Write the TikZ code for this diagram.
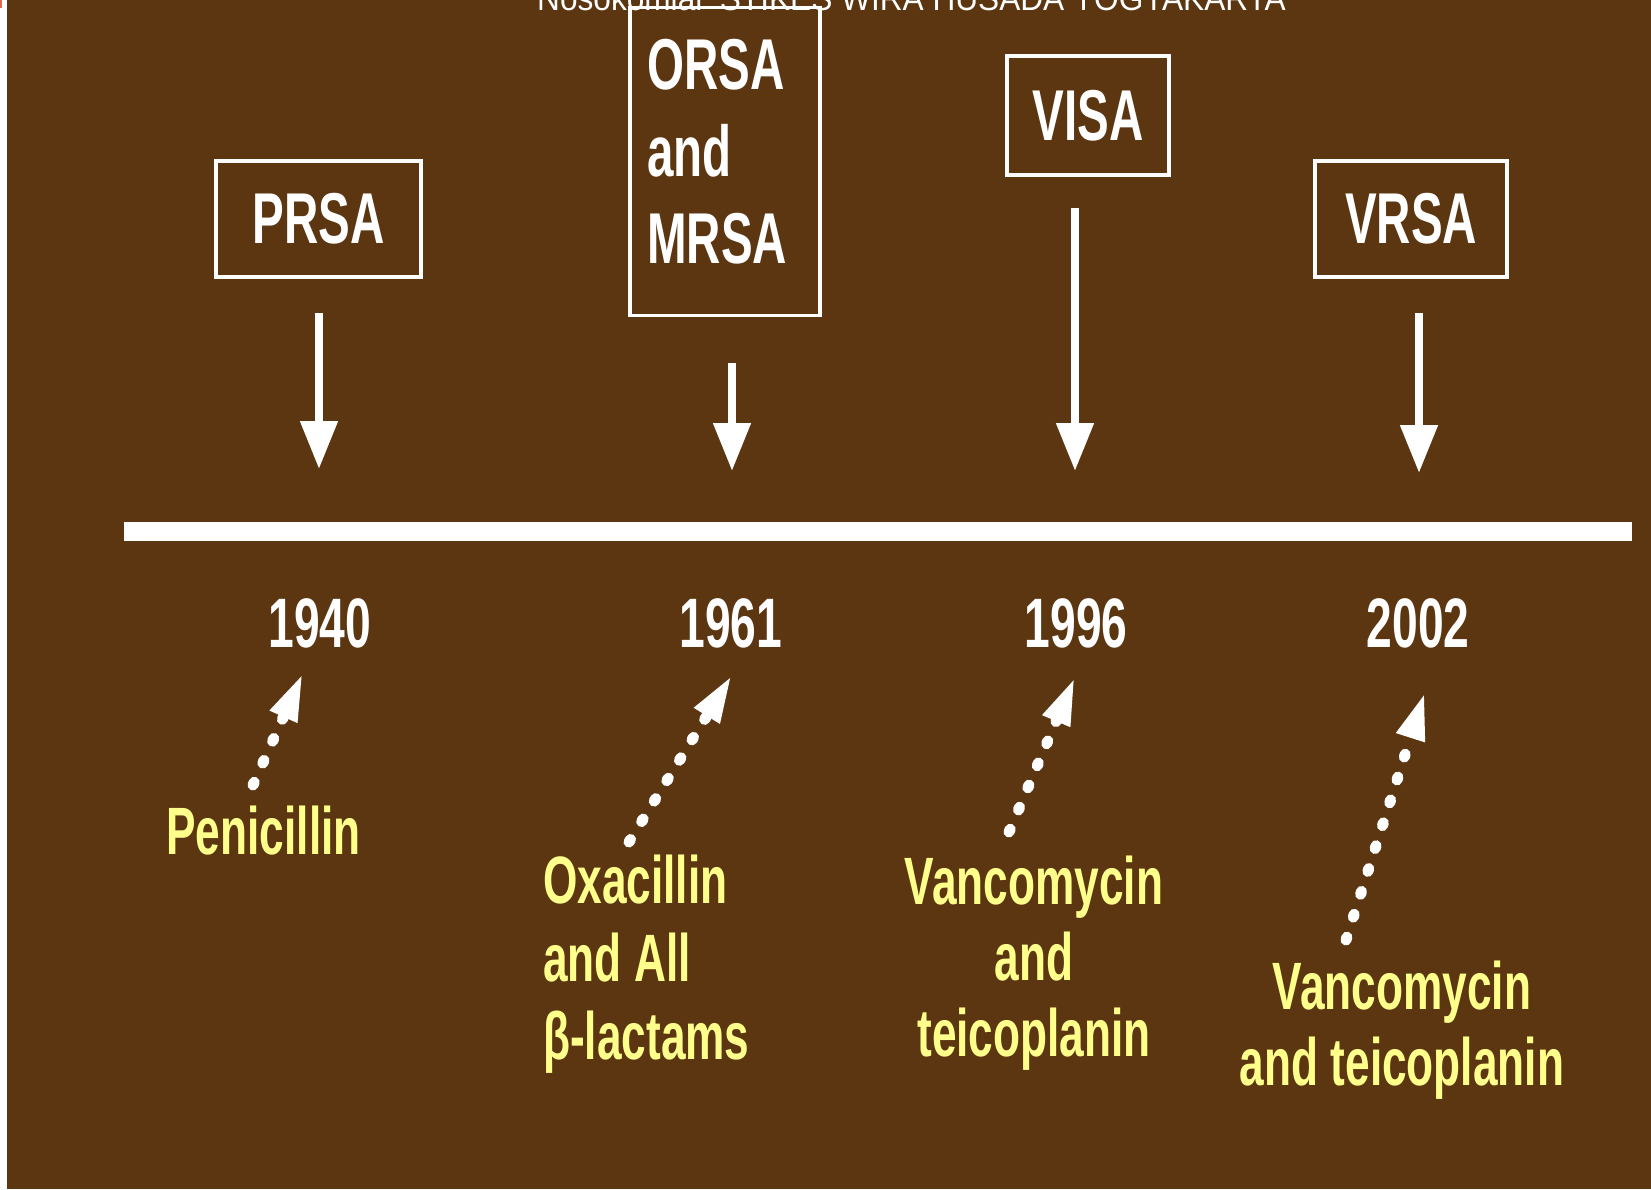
\documentclass[tikz,border=0pt]{standalone}
\usepackage{fontspec}
\setmainfont{Liberation Sans}
\newfontfamily\condensed[FakeStretch=0.66]{Liberation Sans}
\usetikzlibrary{arrows.meta}
\definecolor{bgbrown}{RGB}{92,54,17}
\definecolor{drugyellow}{RGB}{255,255,140}
\definecolor{cornermark}{RGB}{225,105,75}

\begin{document}
\begin{tikzpicture}[x=1pt,y=-1pt,
  strainbox/.style={draw=white, line width=3.5pt, text=white, inner sep=0pt,
    font=\condensed\bfseries\fontsize{72}{87}\selectfont},
  straintext/.style={text=white, inner sep=0pt,
    font=\condensed\bfseries\fontsize{72}{87}\selectfont},
  yearlabel/.style={text=white, inner sep=0pt,
    font=\condensed\bfseries\fontsize{70}{80}\selectfont},
  druglabel/.style={text=drugyellow, inner sep=0pt,
    font=\condensed\bfseries\fontsize{67}{78}\selectfont},
  downarrow/.style={draw=white, line width=8pt,
    -{Triangle[width=36pt,length=48pt]}, white},
  dotarrow/.style={draw=white, line width=11pt, line cap=round,
    dash pattern=on 3pt off 21pt,
    -{Triangle[width=27pt,length=48pt]}, white}]

\useasboundingbox (0,0) rectangle (1651,1189);
% page background with the white margin strip on the left
\fill[white] (0,0) rectangle (1651,1189);
\fill[bgbrown] (7,0) rectangle (1651,1189);
\fill[cornermark] (0,0) rectangle (1.5,8);

% running header, cut by the top edge of the page
\node[anchor=base west, inner sep=0pt, text=white,
  font=\fontsize{34}{40}\selectfont] (hdr) at (537,10)
  {\scalebox{0.93}[1]{Nosokomial\ \ STIKES WIRA HUSADA YOGYAKARTA}};

% resistant strains
\node[strainbox, minimum width=205pt, minimum height=116pt] (prsa) at (318.5,219) {PRSA};
\node[strainbox, minimum width=190pt, minimum height=308pt] (orsa) at (725,161.5) {};
\node[straintext, anchor=north west, align=left] (orsatext) at (647,39)
  {ORSA\\and\\MRSA};
\node[strainbox, minimum width=162pt, minimum height=119pt] (visa) at (1088,115.5) {VISA};
\node[strainbox, minimum width=192pt, minimum height=116pt] (vrsa) at (1411,219) {VRSA};

% time axis
\fill[white] (124,522) rectangle (1632,541);

% years
\node[yearlabel] (y1940) at (320,623) {1940};
\node[yearlabel] (y1961) at (731,623) {1961};
\node[yearlabel] (y1996) at (1076,623) {1996};
\node[yearlabel] (y2002) at (1418,623) {2002};

% antibiotics
\node[druglabel] (pen) at (263.5,831) {Penicillin};
\node[druglabel, anchor=north west, align=left] (oxa) at (543,855)
  {Oxacillin\\and All\\β-lactams};
\node[druglabel, anchor=north, align=center, font=\condensed\bfseries\fontsize{67}{76}\selectfont]
  (vanA) at (1034,856) {Vancomycin\\and\\teicoplanin};
\node[druglabel, anchor=north, align=center, font=\condensed\bfseries\fontsize{67}{76}\selectfont]
  (vanB) at (1402,961) {Vancomycin\\and teicoplanin};

% ends of the arrows
\coordinate (prsaS) at (319,313);   \coordinate (prsaE) at (319,469);
\coordinate (orsaS) at (732,363);   \coordinate (orsaE) at (732,471);
\coordinate (visaS) at (1075,208);  \coordinate (visaE) at (1075,471);
\coordinate (vrsaS) at (1419,313);  \coordinate (vrsaE) at (1419,473);

\coordinate (penS) at (253,785);    \coordinate (penE) at (303,673);
\coordinate (oxaS) at (629,842);    \coordinate (oxaE) at (732,675);
\coordinate (vanAS) at (1009,832);  \coordinate (vanAE) at (1075,677);
\coordinate (vanBS) at (1346,940);  \coordinate (vanBE) at (1425,692);

% strain emergence arrows
\draw[downarrow] (prsaS) -- (prsaE);
\draw[downarrow] (orsaS) -- (orsaE);
\draw[downarrow] (visaS) -- (visaE);
\draw[downarrow] (vrsaS) -- (vrsaE);

% antibiotic introduction arrows
\draw[dotarrow] (penS) -- (penE);
\draw[dotarrow] (oxaS) -- (oxaE);
\draw[dotarrow] (vanAS) -- (vanAE);
\draw[dotarrow] (vanBS) -- (vanBE);
\end{tikzpicture}
\end{document}
